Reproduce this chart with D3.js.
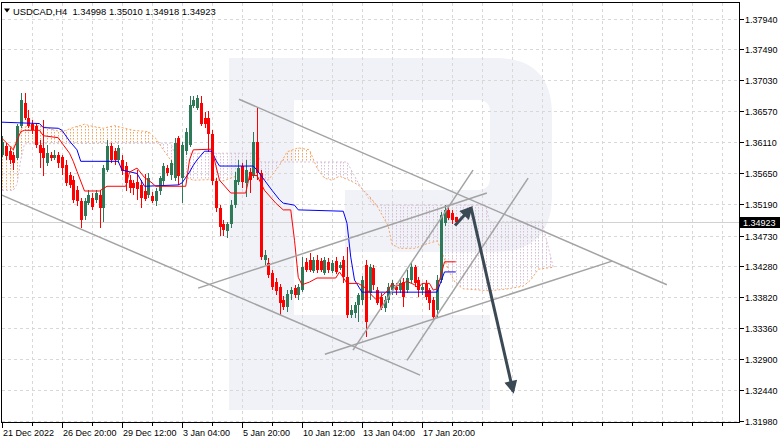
<!DOCTYPE html>
<html><head><meta charset="utf-8">
<script src="https://cdn.jsdelivr.net/npm/d3@7"></script>
<style>
body{margin:0;background:#fff}
svg{display:block}
text{font-family:"Liberation Sans",Arial,sans-serif;font-size:9px;fill:#000}
</style>
</head><body>
<svg id="c" width="782" height="442"></svg>
<script>
// ---------- DATA ----------
const symbol = "USDCAD,H4";
const lastQuote = ["1.34998", "1.35010", "1.34918", "1.34923"];
const yTickLabels = ["1.37940","1.37490","1.37030","1.36570","1.36110","1.35650","1.35190",
  "1.34730","1.34280","1.33820","1.33360","1.32900","1.32440","1.31980"];
const xTickLabels = ["21 Dec 2022","26 Dec 20:00","29 Dec 12:00","3 Jan 04:00","5 Jan 20:00",
  "10 Jan 12:00","13 Jan 04:00","17 Jan 20:00"];
const xTickBars = [0,16,32,48,64,80,96,112];

const open = [1.3592,1.3606,1.3598,1.3592,1.3588,1.3636,1.3669,1.3647,1.3638,1.3635,
1.3607,1.3603,1.3580,1.3592,1.3588,1.3592,1.3589,1.3577,1.3562,1.3555,
1.3540,1.3524,1.3502,1.3521,1.3528,1.3526,1.3533,1.3514,1.3570,1.3606,
1.3598,1.3585,1.3585,1.3576,1.3555,1.3551,1.3552,1.3548,1.3539,1.3533,
1.3531,1.3524,1.3539,1.3554,1.3573,1.3562,1.3558,1.3617,1.3559,1.3598,
1.3607,1.3665,1.3662,1.3669,1.3647,1.3647,1.3624,1.3554,1.3514,1.3490,
1.3479,1.3490,1.3518,1.3552,1.3576,1.3551,1.3567,1.3562,1.3612,1.3565,
1.3437,1.3432,1.3417,1.3404,1.3397,1.3377,1.3367,1.3386,1.3395,1.3385,
1.3392,1.3434,1.3437,1.3420,1.3437,1.3435,1.3417,1.3434,1.3420,1.3435,
1.3425,1.3437,1.3411,1.3355,1.3358,1.3370,1.3377,1.3429,1.3388,1.3425,
1.3392,1.3382,1.3365,1.3377,1.3392,1.3397,1.3392,1.3404,1.3392,1.3407,
1.3426,1.3407,1.3392,1.3401,1.3392,1.3377,1.3362,1.3407,1.3491,1.3511,
1.3506,1.34998];
const high = [1.3620,1.3610,1.3603,1.3597,1.3639,1.3684,1.3684,1.3659,1.3644,1.3638,
1.3615,1.3644,1.3607,1.3597,1.3600,1.3597,1.3592,1.3585,1.3567,1.3561,
1.3546,1.3528,1.3528,1.3540,1.3536,1.3540,1.3540,1.3577,1.3615,1.3610,
1.3603,1.3607,1.3592,1.3582,1.3562,1.3555,1.3570,1.3555,1.3564,1.3565,
1.3537,1.3543,1.3561,1.3580,1.3577,1.3585,1.3617,1.3621,1.3612,1.3632,
1.3680,1.3680,1.3681,1.3680,1.3656,1.3657,1.3629,1.3558,1.3518,1.3496,
1.3493,1.3526,1.3567,1.3585,1.3580,1.3585,1.3573,1.3626,1.3663,1.3570,
1.3451,1.3440,1.3422,1.3410,1.3401,1.3383,1.3392,1.3397,1.3400,1.3401,
1.3441,1.3440,1.3447,1.3441,1.3444,1.3440,1.3441,1.3440,1.3437,1.3441,
1.3434,1.3442,1.3456,1.3370,1.3374,1.3388,1.3413,1.3437,1.3431,1.3429,
1.3397,1.3388,1.3383,1.3402,1.3407,1.3402,1.3408,1.3410,1.3422,1.3432,
1.3429,1.3411,1.3402,1.3407,1.3395,1.3382,1.3414,1.3508,1.3518,1.3518,
1.3511,1.35010];
const low = [1.3589,1.3585,1.3579,1.3570,1.3585,1.3632,1.3644,1.3632,1.3624,1.3603,
1.3573,1.3561,1.3576,1.3583,1.3585,1.3573,1.3562,1.3546,1.3543,1.3521,
1.3517,1.3484,1.3496,1.3518,1.3511,1.3521,1.3484,1.3493,1.3567,1.3580,
1.3577,1.3580,1.3562,1.3539,1.3536,1.3533,1.3526,1.3514,1.3524,1.3528,
1.3521,1.3517,1.3533,1.3548,1.3561,1.3555,1.3554,1.3548,1.3521,1.3592,
1.3604,1.3662,1.3659,1.3636,1.3632,1.3597,1.3548,1.3508,1.3473,1.3473,
1.3469,1.3484,1.3514,1.3548,1.3543,1.3530,1.3536,1.3558,1.3555,1.3437,
1.3429,1.3410,1.3392,1.3385,1.3355,1.3362,1.3359,1.3377,1.3380,1.3377,
1.3389,1.3419,1.3419,1.3417,1.3417,1.3419,1.3414,1.3417,1.3417,1.3416,
1.3422,1.3402,1.3351,1.3351,1.3351,1.3345,1.3370,1.3322,1.3377,1.3392,
1.3370,1.3362,1.3359,1.3373,1.3385,1.3385,1.3388,1.3367,1.3388,1.3402,
1.3397,1.3382,1.3385,1.3377,1.3362,1.3348,1.3351,1.3402,1.3487,1.3496,
1.3490,1.34918];
const close = [1.3612,1.3591,1.3585,1.3580,1.3636,1.3674,1.3647,1.3635,1.3629,1.3607,
1.3595,1.3588,1.3595,1.3588,1.3592,1.3580,1.3573,1.3551,1.3548,1.3526,
1.3524,1.3496,1.3524,1.3533,1.3515,1.3536,1.3514,1.3573,1.3606,1.3585,
1.3585,1.3603,1.3568,1.3551,1.3543,1.3543,1.3542,1.3528,1.3527,1.3558,
1.3524,1.3539,1.3558,1.3576,1.3565,1.3580,1.3610,1.3561,1.3607,1.3627,
1.3666,1.3674,1.3677,1.3639,1.3638,1.3624,1.3554,1.3514,1.3485,1.3481,
1.3490,1.3518,1.3555,1.3573,1.3552,1.3570,1.3555,1.3612,1.3565,1.3441,
1.3444,1.3414,1.3397,1.3391,1.3373,1.3367,1.3386,1.3392,1.3385,1.3397,
1.3426,1.3422,1.3422,1.3437,1.3422,1.3422,1.3437,1.3422,1.3432,1.3419,
1.3429,1.3411,1.3355,1.3362,1.3370,1.3385,1.3407,1.3345,1.3426,1.3400,
1.3373,1.3365,1.3377,1.3397,1.3402,1.3392,1.3402,1.3382,1.3410,1.3426,
1.3402,1.3392,1.3397,1.3382,1.3373,1.3352,1.3407,1.3503,1.3511,1.3499,
1.3496,1.34923];

// Ichimoku lines (vertices: bar index, price)
const tenkanBar = [0,2,3,5,6,10,11,15,16,18,19,20,22,26,28,33,34,36,38,40,41,49,50,51,56,57,58,61,65,66,68,70,73,75,77,78,79,80,82,84,89,90,92,95,97,99,100,101,103,104,105,106,108,110,111,112,114,115,116,117,118,121];
const tenkanVal = [1.3617,1.3606,1.3600,1.3627,1.3629,1.3629,1.3621,1.3618,1.3610,1.3595,1.3583,1.3568,1.3539,1.3539,1.3546,1.3546,1.3567,1.3573,1.3559,1.3551,1.3546,1.3546,1.3585,1.3600,1.3601,1.3577,1.3555,1.3536,1.3536,1.3562,1.3562,1.3540,1.3521,1.3511,1.3511,1.3466,1.3411,1.3400,1.3404,1.3410,1.3410,1.3419,1.3402,1.3402,1.3395,1.3382,1.3377,1.3382,1.3392,1.3402,1.3397,1.3400,1.3405,1.3400,1.3395,1.3402,1.3402,1.3392,1.3394,1.3413,1.3434,1.3434];
const kijunBar = [0,10,11,15,16,18,20,21,31,32,36,38,47,48,50,51,52,54,56,57,58,67,68,70,72,74,75,78,79,91,92,93,94,96,116,117,118,121];
const kijunVal = [1.3641,1.3639,1.3633,1.3632,1.3629,1.3613,1.3600,1.3583,1.3583,1.3570,1.3565,1.3546,1.3548,1.3551,1.3567,1.3577,1.3585,1.3598,1.3598,1.3585,1.3576,1.3576,1.3570,1.3555,1.3540,1.3526,1.3521,1.3518,1.3511,1.3509,1.3491,1.3441,1.3407,1.3389,1.3389,1.3404,1.3419,1.3419];
const spanABar = [0,3,4,5,7,10,12,14,16,19,22,24,27,30,32,35,39,41,43,46,48,51,56,59,63,66,69,71,74,76,79,82,84,86,88,90,93,95,98,100,103,104,106,110,113,116,117,119,121,123,130,135,139,141,143,147];
const spanAVal = [1.3606,1.3604,1.3615,1.3632,1.3635,1.3636,1.3633,1.3629,1.3627,1.3633,1.3638,1.3635,1.3632,1.3636,1.3633,1.3629,1.3627,1.3617,1.3600,1.3577,1.3562,1.3555,1.3556,1.3554,1.3562,1.3567,1.3558,1.3555,1.3577,1.3597,1.3603,1.3600,1.3573,1.3558,1.3555,1.3561,1.3554,1.3548,1.3531,1.3517,1.3487,1.3460,1.3454,1.3454,1.3460,1.3465,1.3454,1.3422,1.3402,1.3394,1.3391,1.3394,1.3398,1.3407,1.3423,1.3426];
const spanBBar = [0,3,4,5,6,45,46,68,69,92,95,99,129,130,144,147];
const spanBVal = [1.3540,1.3540,1.3549,1.3585,1.3609,1.3610,1.3595,1.3595,1.3582,1.3582,1.3551,1.3518,1.3518,1.3493,1.3493,1.3426];

// Drawn trend lines (bar, price -> bar, price)
const trendFromBar = [63.2,-0.5,52.3,86.1,93.6,108.0];
const trendFromPrice = [1.3675,1.3534,1.3395,1.3297,1.3303,1.3288];
const trendToBar = [177.3,111.5,129.3,162.7,125.6,140.3];
const trendToPrice = [1.3400,1.3266,1.3536,1.3435,1.3570,1.3558];
// Forecast arrow (bar, price)
const arrowBar = [120.8,125.1,136.3];
const arrowPrice = [1.3488,1.3514,1.3242];

// ---------- CHART ----------
const svg = d3.select("#c");
const NB = 196, BAR = 3.75, X0 = 2;
const x = d3.scaleLinear().domain([0, NB]).range([X0, X0 + NB * BAR]);
const y = d3.scaleLinear().domain([1.3198, 1.3794]).range([421, 19]);
const P = {l: 1.5, t: 2.5, r: 739.5, b: 422.5};
const defs = svg.append("defs");
defs.append("clipPath").attr("id","plotClip").append("rect")
  .attr("x",P.l).attr("y",P.t).attr("width",P.r-P.l).attr("height",P.b-P.t);

svg.append("rect").attr("width",782).attr("height",442).attr("fill","#fff");
const plot = svg.append("g").attr("clip-path","url(#plotClip)");

// watermark
const wm = plot.append("g").attr("fill","#f0f2f7");
wm.append("rect").attr("x",229).attr("y",58).attr("width",65).attr("height",352);
wm.append("path").attr("d","M294,58H495Q552,58 552,115V195Q552,252 495,252H345V190H478Q490,190 490,178V112Q490,100 478,100H294Z");
wm.append("rect").attr("x",294).attr("y",315).attr("width",196).attr("height",95);

// grid
const yTickVals = yTickLabels.map(Number);
const grid = plot.append("g").attr("stroke","#d8d8d8").attr("stroke-dasharray","3,3").attr("shape-rendering","crispEdges");
yTickVals.forEach(v => {
  const yy = Math.round(y(v)) + 0.5;
  grid.append("line").attr("x1",P.l).attr("x2",P.r).attr("y1",yy).attr("y2",yy);
});
d3.range(8, NB, 8).forEach(b => {
  const xx = Math.round(x(b)) + 0.5;
  grid.append("line").attr("x1",xx).attr("x2",xx).attr("y1",P.t).attr("y2",P.b);
});

// cloud
const ptsA = spanABar.map((b,i) => [x(b), y(spanAVal[i])]);
const ptsB = spanBBar.map((b,i) => [x(b), y(spanBVal[i])]);
const lineGen = d3.line();
const poly = "M" + ptsA.map(p => p.join(",")).join("L") + "L" + ptsB.slice().reverse().map(p => p.join(",")).join("L") + "Z";
defs.append("clipPath").attr("id","cloudPoly").append("path").attr("d",poly);
const bFirst = ptsB[0], bLast = ptsB[ptsB.length-1];
const bPath = ptsB.map(p => p.join(",")).join("L");
defs.append("clipPath").attr("id","aboveB").append("path")
  .attr("d",`M${bFirst[0]-20},${bFirst[1]}L${bPath}L${bLast[0]+20},${bLast[1]}L${bLast[0]+20},0L${bFirst[0]-20},0Z`);
defs.append("clipPath").attr("id","belowB").append("path")
  .attr("d",`M${bFirst[0]-20},${bFirst[1]}L${bPath}L${bLast[0]+20},${bLast[1]}L${bLast[0]+20},442L${bFirst[0]-20},442Z`);
const hatchBars = d3.range(0, spanBBar[spanBBar.length-1] + 1);
function hatch(clipId, color) {
  const g = plot.append("g").attr("clip-path","url(#cloudPoly)")
    .append("g").attr("clip-path",`url(#${clipId})`);
  hatchBars.forEach(b => {
    const xx = Math.round(x(b)) + 0.5;
    g.append("line").attr("x1",xx).attr("x2",xx).attr("y1",0).attr("y2",442)
      .attr("stroke",color).attr("stroke-width",1).attr("stroke-dasharray","1.5,1.5");
  });
}
hatch("aboveB", "#f4a460");
hatch("belowB", "#d8bfd8");
plot.append("path").attr("d",lineGen(ptsB)).attr("fill","none").attr("stroke","#d8bfd8").attr("stroke-width",1).attr("stroke-dasharray","2,2");
plot.append("path").attr("d",lineGen(ptsA)).attr("fill","none").attr("stroke","#f4a460").attr("stroke-width",1).attr("stroke-dasharray","2,2");

// bid line
const bid = +lastQuote[3];
plot.append("line").attr("x1",P.l).attr("x2",P.r).attr("y1",Math.round(y(bid))+0.5).attr("y2",Math.round(y(bid))+0.5)
  .attr("stroke","#d2d2d2").attr("shape-rendering","crispEdges");

// candles
const cg = plot.append("g").attr("shape-rendering","crispEdges");
open.forEach((o,i) => {
  const c = close[i], bull = c >= o;
  const col = bull ? "#2e7a58" : "#ff0000";
  const xx = Math.round(x(i));
  cg.append("line").attr("x1",xx+0.5).attr("x2",xx+0.5).attr("y1",y(high[i])).attr("y2",y(low[i])).attr("stroke",col);
  const y1 = Math.min(y(o),y(c)), h = Math.max(1, Math.abs(y(o)-y(c)));
  cg.append("rect").attr("x",xx-1).attr("y",y1).attr("width",3).attr("height",h).attr("fill",col);
});

// tenkan / kijun
plot.append("path").attr("d",lineGen(kijunBar.map((b,i)=>[x(b),y(kijunVal[i])]))).attr("fill","none").attr("stroke","#0000ff").attr("stroke-width",1);
plot.append("path").attr("d",lineGen(tenkanBar.map((b,i)=>[x(b),y(tenkanVal[i])]))).attr("fill","none").attr("stroke","#ff0000").attr("stroke-width",1);

// trend lines
trendFromBar.forEach((b,i) => {
  plot.append("line").attr("x1",x(b)).attr("y1",y(trendFromPrice[i]))
    .attr("x2",x(trendToBar[i])).attr("y2",y(trendToPrice[i]))
    .attr("stroke","#a3a3a3").attr("stroke-width",1.5);
});

// arrow
const mk = defs.append("marker").attr("id","ah").attr("viewBox","0 0 10 10")
  .attr("refX",8).attr("refY",5).attr("markerWidth",15).attr("markerHeight",13)
  .attr("markerUnits","userSpaceOnUse").attr("orient","auto");
mk.append("path").attr("d","M0,0L10,5L0,10Z").attr("fill","#3a4954");
for (let k = 0; k < arrowBar.length - 1; k++) {
  plot.append("line").attr("x1",x(arrowBar[k])).attr("y1",y(arrowPrice[k]))
    .attr("x2",x(arrowBar[k+1])).attr("y2",y(arrowPrice[k+1]))
    .attr("stroke","#3a4954").attr("stroke-width",3).attr("marker-end","url(#ah)");
}

// frame
svg.append("rect").attr("x",P.l).attr("y",P.t).attr("width",P.r-P.l).attr("height",P.b-P.t)
  .attr("fill","none").attr("stroke","#000").attr("shape-rendering","crispEdges");

// y axis
const ya = svg.append("g");
yTickVals.forEach((v,i) => {
  const yy = Math.round(y(v)) + 0.5;
  ya.append("line").attr("x1",P.r).attr("x2",P.r+4).attr("y1",yy).attr("y2",yy).attr("stroke","#000").attr("shape-rendering","crispEdges");
  ya.append("text").attr("x",745).attr("y",yy+3).text(yTickLabels[i]);
});
const by = Math.round(y(bid));
ya.append("rect").attr("x",740).attr("y",by-5).attr("width",40).attr("height",11).attr("fill","#000");
ya.append("text").attr("x",743).attr("y",by+4).style("fill","#fff").text(lastQuote[3]);

// x axis
const xa = svg.append("g");
d3.range(0, NB, 8).forEach(b => {
  const xx = Math.round(x(b)) + 0.5;
  xa.append("line").attr("x1",xx).attr("x2",xx).attr("y1",P.b).attr("y2",P.b+3).attr("stroke","#000").attr("shape-rendering","crispEdges");
});
xTickBars.forEach((b,i) => {
  const xx = Math.round(x(b)) + 0.5;
  xa.append("line").attr("x1",xx).attr("x2",xx).attr("y1",P.b).attr("y2",P.b+5).attr("stroke","#000").attr("shape-rendering","crispEdges");
  xa.append("text").attr("x",xx+0.5).attr("y",436).text(xTickLabels[i]);
});

// header
svg.append("path").attr("d","M4,8.5L10,8.5L7,12.5Z").attr("fill","#000");
svg.append("text").attr("x",13).attr("y",15).style("white-space","pre").style("font-size","9.4px")
  .text(symbol + "  " + lastQuote.join(" "));
</script>
</body></html>
